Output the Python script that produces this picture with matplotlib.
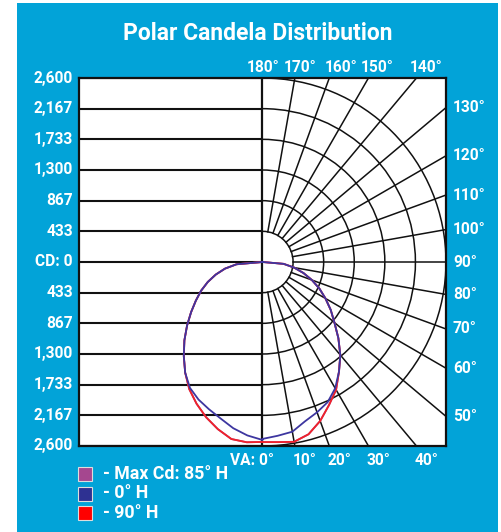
import numpy as np
import matplotlib
matplotlib.use("Agg")
import matplotlib.pyplot as plt
from matplotlib.patches import Rectangle, Arc

plt.rcParams['font.family'] = ['Roboto', 'DejaVu Sans']

# --- data (candela vs vertical angle, 0 = straight down) ---
va_angles = [0, 5, 10, 15, 20, 25, 30, 35, 40, 45, 50, 55, 60, 65, 70, 75, 80, 85, 90]

# 0 deg H plane (right half) and its 180 deg partner (left half)
h0_right = [2500, 2465, 2435, 2330, 2260, 2185, 2060, 1890, 1715, 1520, 1330, 1180,
            1030, 890, 745, 600, 455, 300, 0]
h0_left = [2515, 2460, 2385, 2290, 2215, 2145, 2055, 1910, 1735, 1565, 1395, 1235,
           1090, 960, 825, 685, 540, 370, 0]

# 90 deg H plane
h90_right = [2545, 2555, 2580, 2520, 2390, 2230, 2085, 1890, 1715, 1520, 1330, 1180,
             1030, 890, 745, 600, 455, 300, 0]
h90_left = [2543, 2557, 2540, 2445, 2335, 2210, 2075, 1910, 1735, 1565, 1395, 1235,
            1090, 960, 825, 685, 540, 370, 0]

cd_ticks = [2600, 2167, 1733, 1300, 867, 433, 0, 433, 867, 1300, 1733, 2167, 2600]
cd_max = 2600
ring_step = 433.33

legend_labels = ['- Max Cd: 85° H', '- 0° H', '- 90° H']
legend_colors = ['#A5478F', '#2E3192', '#FF0000']

BG = '#02A3D8'
W, H = 502, 532

fig = plt.figure(figsize=(W / 100, H / 100), dpi=100)
fig.patch.set_facecolor('white')
fig.patches.append(Rectangle((17 / W, 0), 481 / W, (H - 3) / H, transform=fig.transFigure,
                             facecolor=BG, edgecolor='none', zorder=-5))

# plot square: pixels x 79..446, y 78..446
ax = fig.add_axes([79 / W, 1 - 446 / H, 367 / W, 368 / H])
ax.set_zorder(2)
ax.set_xlim(-cd_max, cd_max)
ax.set_ylim(-cd_max, cd_max)
ax.set_facecolor('white')
ax.set_xticks([])
ax.set_yticks([])
for sp in ax.spines.values():
    sp.set_linewidth(1.6)
    sp.set_color('#111111')
    sp.set_zorder(10)

px = 2 * cd_max / 367.0  # candela per pixel

# horizontal grid on the left half
for k in range(-6, 7):
    ax.plot([-cd_max, 0], [k * ring_step] * 2, color='#111111', lw=1.5, zorder=2,
            solid_capstyle='butt')
ax.plot([0, 0], [-cd_max, cd_max], color='#111111', lw=1.6, zorder=3)

# polar rings on the right half
for k in range(1, 7):
    ax.add_patch(Arc((0, 0), 2 * k * ring_step, 2 * k * ring_step, theta1=-90, theta2=90,
                     color='#111111', lw=1.1, zorder=2))

# radial lines every 10 deg
for g in range(0, 181, 10):
    t = np.radians(g)
    r0, r1 = ring_step, 3 * cd_max
    ax.plot([r0 * np.sin(t), r1 * np.sin(t)], [-r0 * np.cos(t), -r1 * np.cos(t)],
            color='#111111', lw=1.1, zorder=2)


def curve(left, right):
    a = np.radians(va_angles)
    xs = np.concatenate([-np.array(left)[::-1] * np.sin(a[::-1]), np.array(right) * np.sin(a)])
    ys = np.concatenate([-np.array(left)[::-1] * np.cos(a[::-1]), -np.array(right) * np.cos(a)])
    return xs, ys


x, y = curve(h90_left, h90_right)
ax.plot(x, y, color=legend_colors[0], lw=1.3, zorder=4)
ax.plot(x, y, color='#F0222A', lw=1.3, zorder=5)
x, y = curve(h0_left, h0_right)
ax.plot(x, y, color='#3D36A0', lw=1.3, zorder=6)

# labels
fs = 11.2
txt = dict(color='white', fontsize=fs, fontweight='bold', clip_on=False)
for i, v in enumerate(cd_ticks):
    yv = cd_max - i * ring_step
    lab = 'CD: 0' if v == 0 else f'{v:,}'
    ax.text(-cd_max - 6 * px, yv, lab, ha='right', va='center', **txt)

# top labels (180..140), nudged right of where the spokes meet the frame
top_offsets = {180: 1, 170: 5, 160: 12, 150: 9, 140: 10}
for g, off in top_offsets.items():
    xe = cd_max * np.tan(np.radians(180 - g))
    ax.text(xe + off * px, cd_max + 10 * px, f'{g}°', ha='center', va='center', **txt)

# right labels (130..50)
for g in range(130, 49, -10):
    ye = cd_max * np.tan(np.radians(g - 90))
    ax.text(cd_max + 7 * px, ye, f'{g}°', ha='left', va='center', **txt)

# bottom labels
ax.text(12 * px, -cd_max - 14 * px, 'VA: 0°', ha='right', va='center', **txt)
for g in [10, 20, 30, 40]:
    xe = cd_max * np.tan(np.radians(g))
    ax.text(xe - 2 * px, -cd_max - 14 * px, f'{g}°', ha='left', va='center', **txt)

fig.text(257.5 / W, 1 - 33 / H, 'Polar Candela Distribution', ha='center', va='center',
         color='white', fontsize=16.5, fontweight='bold')

# legend
for i, (lab, c) in enumerate(zip(legend_labels, legend_colors)):
    yc = 474 + i * 19.5
    fig.patches.append(Rectangle((78 / W, 1 - (yc + 7) / H), 14 / W, 14 / H,
                                 transform=fig.transFigure, facecolor=c,
                                 edgecolor='#DDDDDD', lw=0.8, zorder=3))
    fig.text(103 / W, 1 - yc / H, lab, ha='left', va='center', color='white',
             fontsize=12.8, fontweight='bold')

fig.savefig('out.png', dpi=100, facecolor=fig.get_facecolor())
